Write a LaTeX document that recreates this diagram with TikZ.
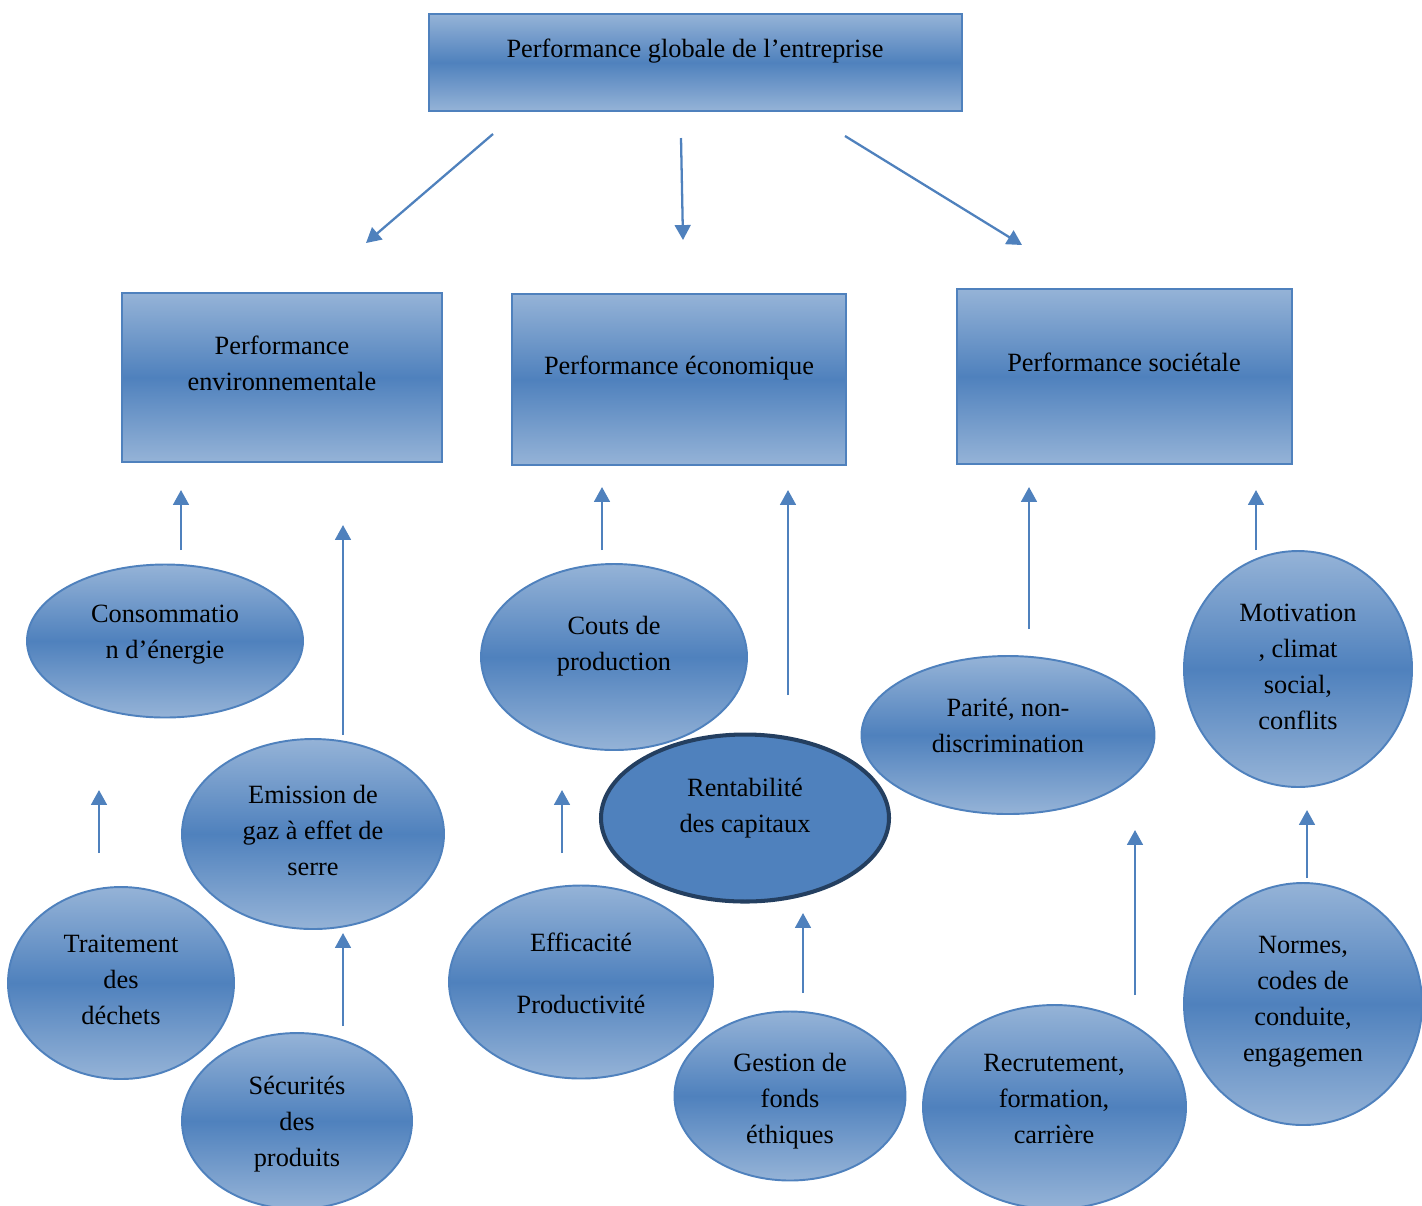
\documentclass[tikz,border=0pt]{standalone}
\usepackage{fontspec}
\setmainfont{Liberation Serif}
\usetikzlibrary{arrows.meta,shapes.geometric}
\definecolor{bleuclair}{HTML}{95B3D7}
\definecolor{bleu}{HTML}{4F81BD}
\definecolor{bleunuit}{HTML}{243F60}
\tikzset{
  boite/.style 2 args={rectangle, draw=bleu, line width=1.3pt,
    minimum width=#1*0.02cm, minimum height=#2*0.02cm, inner sep=0pt,
    top color=bleuclair, bottom color=bleuclair, middle color=bleu},
  bulle/.style 2 args={ellipse, draw=bleu, line width=1.1pt,
    minimum width=#1*0.02cm, minimum height=#2*0.02cm, inner sep=0pt,
    top color=bleuclair, bottom color=bleuclair, middle color=bleu},
  texte/.style={align=center, inner sep=0pt,
    font=\fontsize{15}{20.5}\selectfont},
  fleche/.style={draw=bleu, line width=1.3pt,
    -{Triangle[length=8.5pt,width=9pt]}, bleu}
}
\begin{document}
\begin{tikzpicture}[x=0.02cm,y=-0.02cm]
      \clip (0,0) rectangle (1422,1205);
      % boites
      \node[boite={533}{97}] (glob) at (695.5,62.5) {};
      \node[boite={320}{169}] (env) at (282,377.5) {};
      \node[boite={334}{171}] (eco) at (679,379.5) {};
      \node[boite={335}{175}] (soc) at (1124.5,376.5) {};
      % bulles
      \node[bulle={276}{153}] (cons) at (165,641) {};
      \node[bulle={262}{190}] (emis) at (313,834) {};
      \node[bulle={226}{192}] (trait) at (121,983) {};
      \node[bulle={230}{176}] (secu) at (297,1121) {};
      \node[bulle={266}{186}] (couts) at (614,657) {};
      \node[bulle={264}{193}] (effi) at (581,982) {};
      \node[bulle={231}{169}] (gest) at (790,1096) {};
      \node[bulle={293}{158}] (parite) at (1008,735) {};
      \node[bulle={228}{236}] (motiv) at (1298,669) {};
      \node[bulle={263}{204}] (recru) at (1054.5,1107) {};
      \node[bulle={238}{242}] (normes) at (1303,1004) {};
      \node[ellipse, draw=bleunuit, fill=bleu, line width=2.3pt,
        minimum width=288*0.02cm, minimum height=167*0.02cm,
        inner sep=0pt] (rent) at (745,818) {};
      % textes
      \node[texte] (glob-t) at (695,51) {Performance globale de l’entreprise};
      \node[texte] (env-t) at (282,363) {Performance\\environnementale};
      \node[texte] (eco-t) at (679,368) {Performance économique};
      \node[texte] (soc-t) at (1124,362) {Performance sociétale};
      \node[texte] (cons-t) at (165,635) {Consommatio\\n d’énergie};
      \node[texte] (emis-t) at (313,830) {Emission de\\gaz à effet de\\serre};
      \node[texte] (trait-t) at (121,980) {Traitement\\des\\déchets};
      \node[texte] (secu-t) at (297,1124) {Sécurités\\des\\produits};
      \node[texte] (couts-t) at (614,646) {Couts de\\production};
      \node[texte] (rent-t) at (745,808) {Rentabilité\\des capitaux};
      \node[texte] (effi-t) at (581,973) {Efficacité\\[14.8pt]Productivité};
      \node[texte] (gest-t) at (790,1101) {Gestion de\\fonds\\éthiques};
      \node[texte] (parite-t) at (1008,725) {Parité, non-\\discrimination};
      \node[texte] (motiv-t) at (1298,667) {Motivation\\, climat\\social,\\conflits};
      \node[texte] (recru-t) at (1054,1099) {Recrutement,\\formation,\\carrière};
      \node[texte] (normes-t) at (1303,1002) {Normes,\\codes de\\conduite,\\engagemen};
      % fleches
      \foreach \n/\xa/\ya/\xb/\yb in {1/493/134/366/243, 2/681/138/683/240,
          3/845/136/1022/245, 4/181/550/181/490, 5/343/735/343/525,
          6/99/853/99/790, 7/343/1026/343/933, 8/602/550/602/487,
          9/788/695/788/490, 10/562/853/562/790, 11/803/993/803/913,
          12/1029/629/1029/487, 13/1256/550/1256/490,
          14/1135/995/1135/830, 15/1307/878/1307/810} {
        \coordinate (d\n) at (\xa,\ya);
        \coordinate (a\n) at (\xb,\yb);
        \draw[fleche] (d\n) -- (a\n);
      }
\end{tikzpicture}
\end{document}
